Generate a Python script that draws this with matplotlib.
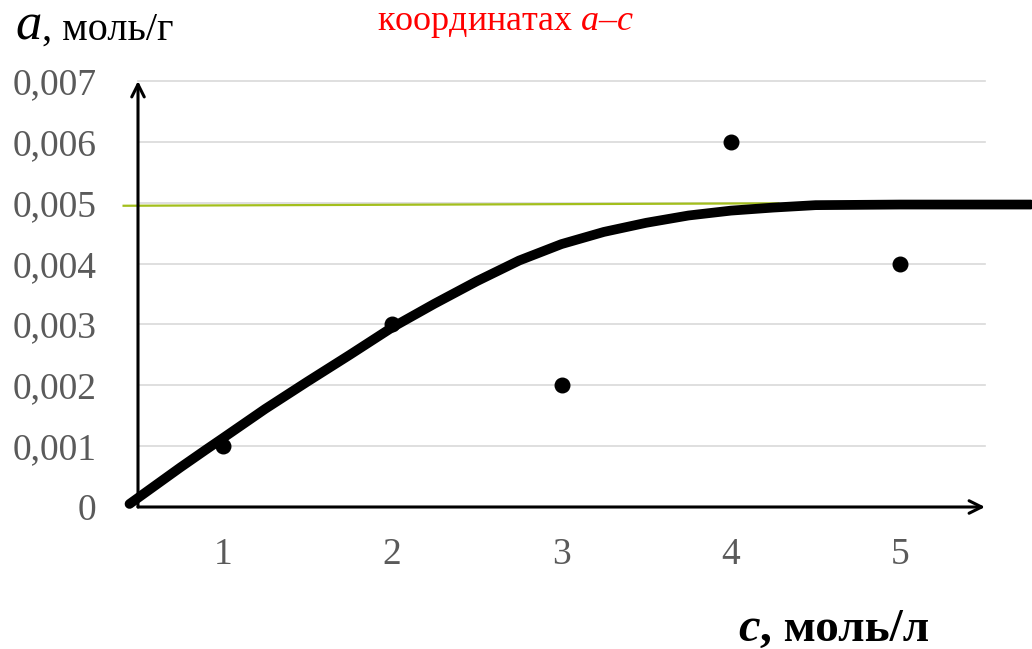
import matplotlib
matplotlib.use("Agg")
from matplotlib import pyplot as plt
from matplotlib.ticker import FuncFormatter

# experimental points
c_points = [1, 2, 3, 4, 5]
a_points = [0.001, 0.003, 0.002, 0.006, 0.004]

# fitted curve
c_curve = [0.45, 0.6, 0.75, 0.9, 1.0, 1.25, 1.5, 1.75, 2.0, 2.25, 2.5, 2.75,
           3.0, 3.25, 3.5, 3.75, 4.0, 4.25, 4.5, 5.0, 5.77]
a_curve = [0.00005, 0.00035, 0.00065, 0.00094, 0.00113, 0.00161, 0.00206, 0.0025,
           0.00295, 0.00334, 0.00371, 0.00405, 0.00432, 0.00452, 0.00467, 0.00479,
           0.00487, 0.00492, 0.00496, 0.00497, 0.00497]

# limit line
c_limit = [0.415, 4.28]
a_limit = [0.00495, 0.00499]

x_ticks = [1, 2, 3, 4, 5]
y_ticks = [0, 0.001, 0.002, 0.003, 0.004, 0.005, 0.006, 0.007]

plt.rcParams['font.family'] = ['Liberation Serif', 'DejaVu Serif']
plt.rcParams['mathtext.fontset'] = 'custom'
plt.rcParams['mathtext.rm'] = 'Liberation Serif'
plt.rcParams['mathtext.it'] = 'Liberation Serif:italic'

W, H = 1032, 649
fig = plt.figure(figsize=(W / 100, H / 100), dpi=100)
ax = fig.add_axes([138 / W, 1 - 507 / H, (985 - 138) / W, (507 - 81) / H])

ax.set_xlim(0.5, 5.5)
ax.set_ylim(0, 0.007)
for s in ax.spines.values():
    s.set_visible(False)

for y in y_ticks[1:]:
    ax.plot([0.5, 5.5], [y, y], color="#d9d9d9", lw=1.2, zorder=1, clip_on=False)

ax.plot(c_limit, a_limit, color="#a3bf1c", lw=1.6, zorder=2, clip_on=False)
ax.plot(c_curve, a_curve, color="black", lw=7, solid_capstyle="round",
        solid_joinstyle="round", zorder=3, clip_on=False)
ax.scatter(c_points, a_points, s=110, color="black", zorder=4, clip_on=False)

arrow = dict(arrowstyle="->,head_length=0.9,head_width=0.45", color="black", lw=2.2,
             shrinkA=0, shrinkB=0)
ax.annotate("", xy=(0.5, 0.007), xytext=(0.5, 0), arrowprops=arrow, zorder=5)
ax.annotate("", xy=(5.5, 0), xytext=(0.5, 0), arrowprops=arrow, zorder=5)

ax.set_xticks(x_ticks)
ax.set_yticks(y_ticks)
ax.yaxis.set_major_formatter(FuncFormatter(lambda v, p: "0" if v == 0 else f"{v:.3f}".replace(".", ",")))
ax.tick_params(axis="both", length=0, labelsize=27, labelcolor="#5a5a5a")
ax.tick_params(axis="y", pad=30)
ax.tick_params(axis="x", pad=22)

fig.text(15 / W, 1 - 40 / H, "a", fontsize=38, style="italic", va="baseline")
fig.text(42 / W, 1 - 40 / H, ", моль/г", fontsize=29, va="baseline")
fig.text(506 / W, 1 - 30 / H, "координатах $a$–$c$", fontsize=26, color="#ff0000",
         ha="center", va="baseline")
fig.text(738 / W, 1 - 641 / H, "c", fontsize=35, style="italic", weight="bold", va="baseline")
fig.text(760 / W, 1 - 641 / H, ", моль/л", fontsize=34, weight="bold", va="baseline")

fig.savefig("out.png", dpi=100)
